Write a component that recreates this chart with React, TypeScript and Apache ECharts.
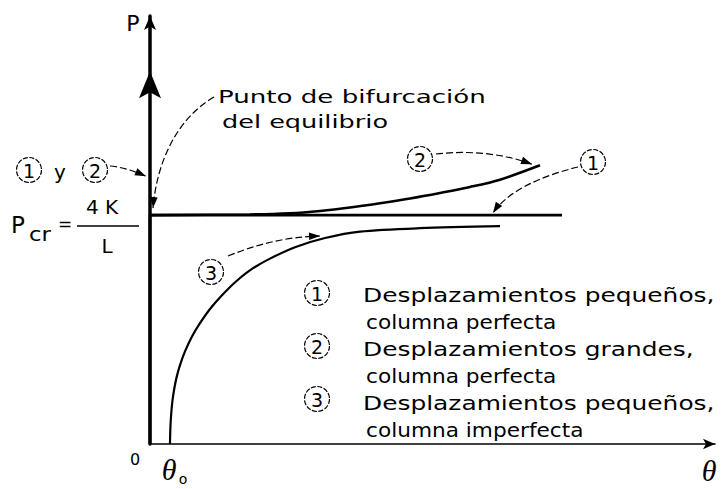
import { useEffect, useRef } from "react";
import * as echarts from "echarts";

// Axis extents (P normalised so that P_cr = 1)
const THETA_MAX = 5.65;
const P_MAX = 1.87;
const P_CR = 1;

// Curve 1: small displacements, perfect column (trivial branch + horizontal at P_cr)
const curve1Theta = [0, 0, 4.12];
const curve1P = [0, P_CR, P_CR];

// Curve 2: large displacements, perfect column
const curve2Theta = [0, 1.0, 1.4, 1.7, 2.0, 2.3, 2.6, 2.9, 3.2, 3.5, 3.9];
const curve2P = [1.0, 1.003, 1.008, 1.018, 1.033, 1.052, 1.073, 1.097, 1.123, 1.155, 1.218];

// Curve 3: small displacements, imperfect column (starts at theta_0)
const curve3Theta = [0.2, 0.203, 0.21, 0.222, 0.24, 0.265, 0.3, 0.35, 0.42, 0.5, 0.6, 0.72, 0.86, 1.02, 1.2, 1.45, 1.75, 2.1, 2.7, 3.5];
const curve3P = [0, 0.06, 0.12, 0.18, 0.235, 0.29, 0.345, 0.405, 0.47, 0.528, 0.59, 0.65, 0.71, 0.765, 0.81, 0.86, 0.9, 0.928, 0.943, 0.952];

const legendNumbers = ["1", "2", "3"];
const legendLines = [
  ["Desplazamientos pequeños,", "columna perfecta"],
  ["Desplazamientos grandes,", "columna perfecta"],
  ["Desplazamientos pequeños,", "columna imperfecta"],
];

const FONT = "DejaVu Sans";
const INK = "#000";

const zip = (xs: number[], ys: number[]) => xs.map((x, i) => [x, ys[i]]);

function text(x: number, y: number, str: string, size: number, opts: any = {}) {
  return {
    type: "text",
    x,
    y,
    scaleX: opts.scaleX ?? 1,
    silent: true,
    style: {
      text: str,
      fill: INK,
      font: `${opts.style ?? "normal"} ${size}px ${opts.family ?? FONT}`,
      textAlign: opts.align ?? "left",
      textVerticalAlign: "middle",
    },
  };
}

function circled(cx: number, cy: number, label: string, r = 12.5) {
  return [
    {
      type: "circle",
      shape: { cx, cy, r },
      silent: true,
      style: { fill: "none", stroke: INK, lineWidth: 1.2, lineDash: [5, 1.5] },
    },
    text(cx, cy + 1, label, 19, { align: "center" }),
  ];
}

function arrowHead(tip: number[], from: number[], len = 11, half = 3.8) {
  const dx = tip[0] - from[0];
  const dy = tip[1] - from[1];
  const d = Math.hypot(dx, dy) || 1;
  const ux = dx / d;
  const uy = dy / d;
  const bx = tip[0] - ux * len;
  const by = tip[1] - uy * len;
  return {
    type: "polygon",
    silent: true,
    shape: {
      points: [
        [tip[0], tip[1]],
        [bx - uy * half, by + ux * half],
        [bx + uy * half, by - ux * half],
      ],
    },
    style: { fill: INK },
  };
}

function dashedArrow(start: number[], c1: number[], c2: number[], tip: number[]) {
  return [
    {
      type: "bezierCurve",
      silent: true,
      shape: {
        x1: start[0], y1: start[1],
        cpx1: c1[0], cpy1: c1[1],
        cpx2: c2[0], cpy2: c2[1],
        x2: tip[0], y2: tip[1],
      },
      style: { stroke: INK, lineWidth: 1.2, lineDash: [7, 3], fill: "none" },
    },
    arrowHead(tip, c2),
  ];
}

export default function App() {
  const ref = useRef<HTMLDivElement>(null);

  useEffect(() => {
    document.body.style.margin = "0";
    const chart = echarts.init(ref.current!, undefined, { renderer: "svg" });

    const lineSeries = (data: number[][], width: number, smooth: number | boolean) => ({
      type: "line",
      data,
      symbol: "none",
      smooth,
      clip: false,
      lineStyle: { color: INK, width },
    });

    chart.setOption({
      animation: false,
      backgroundColor: "#fff",
      grid: { left: 150, right: 8, top: 16, bottom: 45 },
      xAxis: {
        type: "value",
        min: 0,
        max: THETA_MAX,
        axisLine: {
          show: true,
          onZero: false,
          symbol: ["none", "arrow"],
          symbolSize: [8, 12],
          lineStyle: { color: INK, width: 1.6 },
        },
        axisTick: { show: false },
        axisLabel: { show: false },
        splitLine: { show: false },
      },
      yAxis: {
        type: "value",
        min: 0,
        max: P_MAX,
        axisLine: {
          show: true,
          onZero: false,
          symbol: ["none", "arrow"],
          symbolSize: [9, 14],
          lineStyle: { color: INK, width: 3.5 },
        },
        axisTick: { show: false },
        axisLabel: { show: false },
        splitLine: { show: false },
      },
      series: [
        lineSeries(zip(curve1Theta, curve1P), 2.6, false),
        lineSeries(zip(curve2Theta, curve2P), 2.6, 0.3),
        lineSeries(zip(curve3Theta, curve3P), 2.2, 0.3),
      ],
    });

    const px = (t: number, p: number) =>
      chart.convertToPixel({ gridIndex: 0 }, [t, p]) as number[];

    const axisX = px(0, 0)[0];
    const loadArrow = px(0, 1.62);

    const els: any[] = [];

    // Applied load arrow on the P axis
    els.push({
      type: "polygon",
      silent: true,
      shape: {
        points: [
          [axisX, loadArrow[1] - 2],
          [axisX - 11, loadArrow[1] + 25],
          [axisX, loadArrow[1] + 19],
          [axisX + 11, loadArrow[1] + 25],
        ],
      },
      style: { fill: INK },
    });

    // Axis labels
    els.push(text(133, 23, "P", 22, { align: "center" }));
    els.push(text(135, 459, "0", 16, { align: "center" }));
    const t0 = px(curve3Theta[0], 0);
    els.push(text(t0[0] - 1, 469, "θ", 30, { align: "center", style: "italic", family: "Liberation Serif" }));
    els.push(text(t0[0] + 13, 479, "o", 14, { align: "center" }));
    els.push(text(709, 470, "θ", 30, { align: "center", style: "italic", family: "Liberation Serif" }));

    // P_cr = 4K / L
    els.push(text(11, 225, "P", 23));
    els.push(text(29, 235, "cr", 19, { scaleX: 1.2 }));
    els.push(text(65, 224, "=", 17, { align: "center" }));
    els.push(text(102, 207, "4 K", 20, { align: "center" }));
    els.push({
      type: "line",
      silent: true,
      shape: { x1: 77, y1: 226, x2: 139, y2: 226 },
      style: { stroke: INK, lineWidth: 1.5 },
    });
    els.push(text(107, 246, "L", 20, { align: "center" }));

    // (1) y (2) pointing at the trivial branch
    els.push(...circled(29, 170, "1"));
    els.push(text(60, 172, "y", 20, { align: "center" }));
    els.push(...circled(95, 170, "2"));
    const trivialTip = px(0, 1.17);
    els.push(...dashedArrow([110, 166], [122, 167], [134, 171], [trivialTip[0] - 4, trivialTip[1]]));

    // Bifurcation point note
    els.push(text(218, 97, "Punto de bifurcación", 18, { scaleX: 1.45 }));
    els.push(text(222, 121, "del equilibrio", 18, { scaleX: 1.42 }));
    const bif = px(0, P_CR);
    els.push(...dashedArrow([214, 97], [178, 118], [157, 160], [bif[0] + 3, bif[1] - 7]));

    // Curve labels
    els.push(...circled(420, 159, "2"));
    const c2End = px(curve2Theta[curve2Theta.length - 1], curve2P[curve2P.length - 1]);
    els.push(...dashedArrow([436, 154], [470, 150], [505, 154], [c2End[0] - 8, c2End[1] - 1]));

    els.push(...circled(593, 162, "1"));
    const c1Tip = px(3.43, P_CR);
    els.push(...dashedArrow([578, 167], [545, 175], [508, 190], [c1Tip[0], c1Tip[1] - 2]));

    els.push(...circled(211, 272, "3"));
    const c3Tip = px(1.7, 0.9);
    els.push(...dashedArrow([228, 256], [258, 244], [285, 237], [c3Tip[0], c3Tip[1] - 2]));

    // Key
    const keyCircles = [293, 346, 399];
    const keyRows = [295, 349, 403];
    legendNumbers.forEach((n, i) => {
      els.push(...circled(317, keyCircles[i], n));
      els.push(text(363, keyRows[i], legendLines[i][0], 19, { scaleX: 1.31 }));
      els.push(text(366, keyRows[i] + 27, legendLines[i][1], 19, { scaleX: 1.14 }));
    });

    chart.setOption({ graphic: { elements: els } });

    return () => chart.dispose();
  }, []);

  return <div ref={ref} style={{ width: 723, height: 489 }} />;
}
